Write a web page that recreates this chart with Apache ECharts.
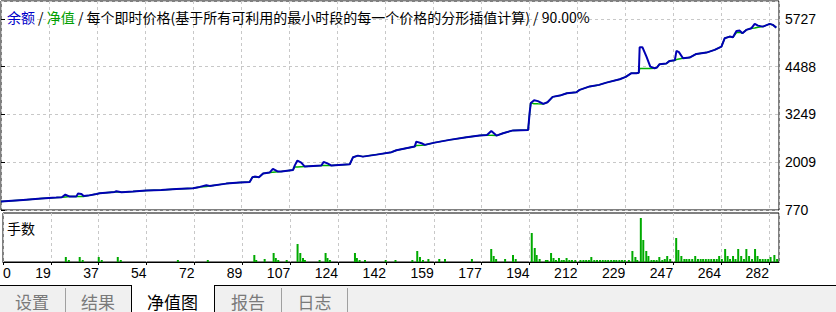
<!DOCTYPE html>
<html><head><meta charset="utf-8">
<script src="https://cdn.jsdelivr.net/npm/echarts@6/dist/echarts.min.js"></script>
<style>html,body{margin:0;padding:0;background:#fff;overflow:hidden}#c{width:836px;height:312px}</style>
</head><body><div id="c"></div>
<script>
const balanceName = '余额';
const equityName = '净值';
const titleRest = '每个即时价格(基于所有可利用的最小时段的每一个价格的分形插值计算) / 90.00%';
const lotsName = '手数';
const tabNames = ['设置', '结果', '净值图', '报告', '日志'];
const xTickLabels = ['0','19','37','54','72','89','107','124','142','159','177','194','212','229','247','264','282'];
const yTickLabels = ['770','2009','3249','4488','5727'];

const tradeX = [0,8.1,14.8,20.3,22.3,23.6,25.2,27.6,28.2,29.5,30.3,31.9,35.0,36.2,41.7,42.3,44.2,48.4,53.3,58.8,64.3,70.4,72.9,75.3,76.5,82.6,87.5,91.2,92.2,93.0,94.6,96.1,98.5,99.7,101.6,102.8,107.1,107.7,108.7,110.1,111.4,117.5,118.3,119.9,121.2,127.9,129.1,130.9,132.7,137.7,143.2,145.0,151.7,152.3,154.2,155.4,159.0,164.5,170.7,175.5,178.2,179.8,181.7,184.1,187.8,193.3,193.9,194.3,195.5,196.9,198.9,200.4,202.3,204.9,207.5,211.0,212.2,215.9,219.3,222.0,226.9,229.1,231.2,233.0,233.9,234.2,235.2,236.7,238.1,239.7,240.5,241.5,244.0,245.2,247.1,247.7,248.6,250.1,252.5,255.0,258.7,261.7,264.2,265.4,267.2,268.4,269.7,270.9,271.9,273.3,275.2,276.4,277.6,279.4,281.9,283.1,284.3];
const balance = [988,1032,1066,1091,1102,1169,1117,1117,1195,1187,1136,1143,1187,1206,1239,1257,1232,1247,1273,1291,1317,1335,1369,1413,1395,1454,1480,1499,1620,1636,1620,1714,1740,1836,1766,1766,1810,1921,2051,1999,1895,1921,2017,1973,1921,1957,2139,2180,2154,2206,2269,2320,2414,2543,2502,2458,2517,2588,2658,2699,2717,2821,2699,2761,2834,2847,3321,3547,3617,3593,3521,3565,3703,3736,3798,3824,3884,3975,4014,4073,4161,4221,4317,4317,4330,4991,4991,4747,4488,4446,4462,4550,4570,4636,4654,4895,4862,4706,4721,4817,4851,4921,5007,5224,5266,5250,5414,5421,5354,5440,5484,5595,5551,5525,5595,5569,5499];
const equity = [988,1032,1066,1091,1102,1110,1117,1117,1117,1118,1120,1143,1187,1206,1239,1240,1232,1247,1273,1291,1317,1335,1369,1380,1390,1454,1480,1499,1620,1620,1620,1714,1740,1750,1760,1766,1810,1885,1888,1892,1895,1921,1921,1921,1921,1957,2139,2180,2154,2206,2269,2320,2414,2440,2450,2458,2517,2588,2658,2699,2717,2705,2699,2761,2834,2847,3321,3547,3525,3522,3521,3565,3703,3736,3798,3824,3884,3975,4014,4073,4161,4221,4317,4317,4330,4436,4438,4440,4442,4446,4462,4550,4570,4636,4654,4670,4685,4706,4721,4817,4851,4921,5007,5224,5266,5250,5370,5378,5354,5440,5484,5490,5510,5525,5595,5569,5499];

const lotX = [23.1,24.2,28.2,29.3,35.2,36.3,42.2,43.3,64.3,75.3,92.4,93.1,96.2,99.5,100.3,101.2,104.3,108.3,109.3,110.3,111.0,116.4,118.6,119.3,120.2,129.4,130.1,131.1,133.1,140.7,144.3,150.5,152.3,153.3,154.4,156.4,160.4,162.5,172.4,179.5,180.4,181.3,184.6,187.5,188.5,194.4,195.5,196.2,197.3,199.6,200.2,201.5,202.4,203.3,204.4,205.4,206.2,207.2,208.2,209.2,210.4,212.3,213.4,214.4,215.4,216.3,217.4,218.4,219.5,220.5,221.5,222.5,223.6,224.6,225.5,226.6,227.6,228.6,230.1,231.4,232.5,233.2,234.5,235.4,236.5,237.3,238.4,239.3,240.3,241.3,242.4,243.3,244.2,245.3,247.5,248.3,249.4,250.5,251.3,252.3,253.4,254.5,255.5,256.5,257.4,258.4,259.4,260.4,261.4,262.4,263.3,264.3,265.5,266.4,267.3,268.4,269.3,270.3,271.4,272.4,273.3,274.3,275.4,276.5,277.4,278.3,279.3,280.3,281.3,282.2,283.6,284.6];
const lots = [0.05,0.02,0.05,0.02,0.05,0.02,0.05,0.02,0.02,0.02,0.07,0.02,0.03,0.09,0.04,0.02,0.02,0.18,0.09,0.04,0.02,0.02,0.09,0.04,0.02,0.09,0.04,0.02,0.02,0.02,0.02,0.02,0.11,0.05,0.02,0.03,0.03,0.03,0.03,0.13,0.06,0.03,0.03,0.07,0.03,0.29,0.14,0.07,0.03,0.02,0.02,0.09,0.04,0.02,0.04,0.02,0.02,0.04,0.02,0.02,0.02,0.02,0.02,0.02,0.02,0.05,0.02,0.02,0.02,0.02,0.02,0.02,0.02,0.02,0.02,0.02,0.02,0.02,0.02,0.11,0.05,0.02,0.44,0.22,0.11,0.06,0.02,0.02,0.02,0.05,0.02,0.03,0.06,0.03,0.24,0.12,0.06,0.03,0.03,0.03,0.03,0.06,0.03,0.03,0.03,0.03,0.03,0.03,0.03,0.03,0.06,0.03,0.13,0.06,0.03,0.06,0.03,0.13,0.06,0.03,0.13,0.06,0.03,0.13,0.06,0.03,0.03,0.03,0.03,0.05,0.07,0.03];

const X_STEP = 17.6, X_MAX = 285.3;
const Y_MIN = 770, Y_STEP = 1239.25, Y_MAX = 6189;
const CJK = '"Noto Sans CJK SC", sans-serif';
const NUM = '"Liberation Sans", Arial, sans-serif';

function xLabel(v) {
  const i = Math.round(v / X_STEP);
  return Math.abs(v - i * X_STEP) < 0.01 && i < xTickLabels.length ? xTickLabels[i] : '';
}
function yLabel(v) {
  const i = Math.round((v - Y_MIN) / Y_STEP);
  return Math.abs(v - (Y_MIN + i * Y_STEP)) < 0.01 && i < yTickLabels.length ? yTickLabels[i] : '';
}
const dashed = { show: true, lineStyle: { color: '#c8c8c8', type: [3, 3], width: 1 } };

const chart = echarts.init(document.getElementById('c'), null, { renderer: 'svg' });

const tabCenters = [32, 98, 172.5, 248, 314.5];
const graphic = [
  { type: 'rect', shape: { x: 0, y: 285, width: 836, height: 27 }, style: { fill: '#f0f0f0' }, silent: true },
  { type: 'line', shape: { x1: 0, y1: 285.5, x2: 131, y2: 285.5 }, style: { stroke: '#000', lineWidth: 1 } },
  { type: 'line', shape: { x1: 214, y1: 285.5, x2: 836, y2: 285.5 }, style: { stroke: '#000', lineWidth: 1 } },
  { type: 'rect', shape: { x: 131.5, y: 285, width: 82.5, height: 27 }, style: { fill: '#fff', stroke: null } },
  { type: 'line', shape: { x1: 131.5, y1: 285, x2: 131.5, y2: 312 }, style: { stroke: '#000', lineWidth: 1 } },
  { type: 'line', shape: { x1: 214.5, y1: 285, x2: 214.5, y2: 312 }, style: { stroke: '#000', lineWidth: 1 } },
  { type: 'line', shape: { x1: 65.5, y1: 288, x2: 65.5, y2: 312 }, style: { stroke: '#a0a0a0', lineWidth: 1 } },
  { type: 'line', shape: { x1: 281.5, y1: 288, x2: 281.5, y2: 312 }, style: { stroke: '#a0a0a0', lineWidth: 1 } },
  { type: 'line', shape: { x1: 347.5, y1: 288, x2: 347.5, y2: 312 }, style: { stroke: '#a0a0a0', lineWidth: 1 } }
];
tabNames.forEach((t, i) => {
  graphic.push({ type: 'text', x: tabCenters[i], y: 301, style: {
    text: t, fill: i === 2 ? '#000' : '#7a7a7a', font: '17px ' + CJK, align: 'center', verticalAlign: 'middle' } });
});

chart.setOption({
  animation: false,
  backgroundColor: '#fff',
  title: [
    { text: '{b|' + balanceName + '} / {g|' + equityName + '} / ' + titleRest, left: 7, top: 10, padding: 0,
      textStyle: { fontSize: 14, fontWeight: 'normal', color: '#000', fontFamily: CJK, lineHeight: 14,
        rich: { b: { color: '#0000c8', fontSize: 14, fontFamily: CJK, lineHeight: 14 },
                g: { color: '#00a000', fontSize: 14, fontFamily: CJK, lineHeight: 14 } } } },
    { text: lotsName, left: 7, top: 221, padding: 0,
      textStyle: { fontSize: 14, fontWeight: 'normal', color: '#000', fontFamily: CJK, lineHeight: 14 } }
  ],
  grid: [
    { left: 1, right: 57, top: 1, height: 209, show: true, borderColor: '#000', borderWidth: 1, backgroundColor: '#fff' },
    { left: 1, right: 57, top: 213, height: 49, show: true, borderColor: '#000', borderWidth: 1, backgroundColor: '#fff' }
  ],
  xAxis: [
    { gridIndex: 0, type: 'value', min: 0, max: X_MAX, interval: X_STEP,
      axisLine: { show: false }, axisTick: { show: false }, axisLabel: { show: false }, splitLine: dashed },
    { gridIndex: 1, type: 'value', min: 0, max: X_MAX, interval: X_STEP,
      axisLine: { show: true, lineStyle: { color: '#000' } },
      axisTick: { show: true, length: 3, lineStyle: { color: '#000' } },
      axisLabel: { show: true, formatter: xLabel, align: 'right', alignMinLabel: 'left', showMaxLabel: false,
        margin: 4, fontSize: 14, fontFamily: NUM, color: '#000' },
      splitLine: dashed }
  ],
  yAxis: [
    { gridIndex: 0, type: 'value', position: 'right', min: Y_MIN, max: Y_MAX, interval: Y_STEP,
      axisLine: { show: false },
      axisTick: { show: true, length: 4, lineStyle: { color: '#000' } },
      axisLabel: { show: true, formatter: yLabel, showMaxLabel: false, margin: 6, fontSize: 14, fontFamily: NUM, color: '#000' },
      splitLine: dashed },
    { gridIndex: 1, type: 'value', min: 0, max: 0.49, show: false, splitLine: { show: false } }
  ],
  series: [
    { name: equityName, type: 'line', xAxisIndex: 0, yAxisIndex: 0, symbol: 'none',
      data: tradeX.map((x, i) => [x, equity[i]]), lineStyle: { color: '#00b000', width: 1.5 }, z: 2 },
    { name: balanceName, type: 'line', xAxisIndex: 0, yAxisIndex: 0, symbol: 'none',
      data: tradeX.map((x, i) => [x, balance[i]]), lineStyle: { color: '#0000b4', width: 2 }, z: 3 },
    { name: lotsName, type: 'bar', xAxisIndex: 1, yAxisIndex: 1, barWidth: 2,
      data: lotX.map((x, i) => [x, lots[i]]), itemStyle: { color: '#00aa00' } }
  ],
  graphic: graphic
});
</script></body></html>
